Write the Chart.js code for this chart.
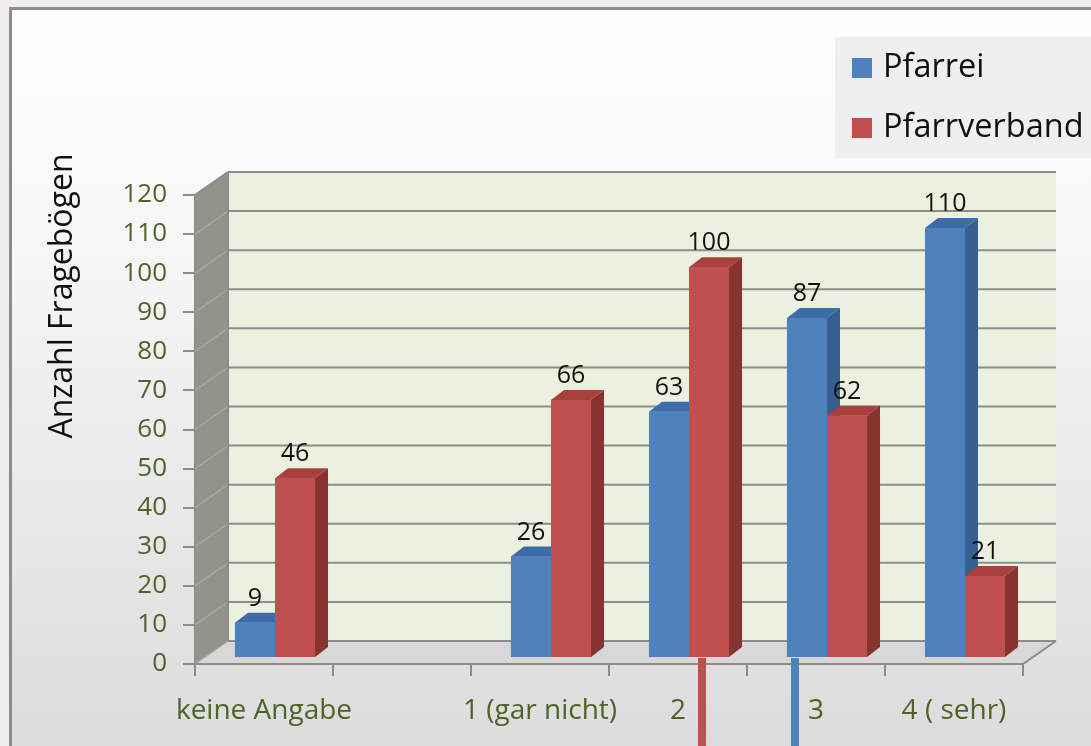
<!DOCTYPE html>
<html>
<head>
<meta charset="utf-8">
<script src="https://cdn.jsdelivr.net/npm/chart.js@4.4.1/dist/chart.umd.min.js"></script>
<style>
  html, body { margin: 0; padding: 0; background: #efece9; }
  #wrap { width: 1091px; height: 746px; }
</style>
</head>
<body>
<div id="wrap"><canvas id="chart" width="1091" height="746"></canvas></div>
<script>
// Daten
const categories = ['keine Angabe', '', '1 (gar nicht)', '2', '3', '4 ( sehr)'];
const pfarrei = [9, null, 26, 63, 87, 110];
const pfarrverband = [46, null, 66, 100, 62, 21];
const yMin = 0, yMax = 120, yStep = 10;

const FONT = '"Open Sans", "DejaVu Sans", sans-serif';
const OLIVE = '#4f6228';
const depth = { x: 33, y: 23 };   // Rückwand-Versatz
const barShift = { x: 11, y: -6 }; // Säulen stehen in der Mitte der Tiefe
const barDepth = { x: 13, y: 10 };

const faceColors = [
    { front: '#4f81bd', top: '#3d6ca8', side: '#375f91' },
    { front: '#c0504d', top: '#a8403d', side: '#873330' }
];

// Hintergrund, Rahmen, Wände, Boden
const scene3d = {
    id: 'scene3d',
    beforeDraw(chart) {
        const ctx = chart.ctx;
        ctx.save();
        ctx.fillStyle = '#efece9';
        ctx.fillRect(0, 0, chart.width, chart.height);
        const g = ctx.createLinearGradient(0, 10, 0, chart.height);
        g.addColorStop(0, '#ffffff');
        g.addColorStop(0.3, '#f7f7f7');
        g.addColorStop(1, '#dcdcdc');
        ctx.fillStyle = g;
        ctx.fillRect(11, 9, chart.width, chart.height);
        ctx.strokeStyle = '#8c8c8c';
        ctx.lineWidth = 3;
        ctx.beginPath();
        ctx.moveTo(10.5, chart.height);
        ctx.lineTo(10.5, 8.5);
        ctx.lineTo(chart.width, 8.5);
        ctx.stroke();
        ctx.restore();
    },
    beforeDatasetsDraw(chart) {
        const ctx = chart.ctx;
        const { left, right } = chart.chartArea;
        const y = chart.scales.y;
        const y0 = y.getPixelForValue(yMin), yTop = y.getPixelForValue(yMax);
        ctx.save();
        // Boden
        ctx.fillStyle = '#d8d8d8';
        ctx.beginPath();
        ctx.moveTo(left, y0);
        ctx.lineTo(left + depth.x, y0 - depth.y);
        ctx.lineTo(right + depth.x, y0 - depth.y);
        ctx.lineTo(right, y0);
        ctx.closePath();
        ctx.fill();
        // linke Wand
        ctx.fillStyle = '#8f9689';
        ctx.beginPath();
        ctx.moveTo(left, y0);
        ctx.lineTo(left, yTop);
        ctx.lineTo(left + depth.x, yTop - depth.y);
        ctx.lineTo(left + depth.x, y0 - depth.y);
        ctx.closePath();
        ctx.fill();
        // Rückwand
        ctx.fillStyle = '#ebf1de';
        ctx.fillRect(left + depth.x, yTop - depth.y, right - left, y0 - yTop);
        // Gitterlinien
        for (let v = yMin; v <= yMax; v += yStep) {
            const py = y.getPixelForValue(v);
            ctx.strokeStyle = '#a3a99c';
            ctx.lineWidth = 1.5;
            ctx.beginPath();
            ctx.moveTo(left, py);
            ctx.lineTo(left + depth.x, py - depth.y);
            ctx.stroke();
            ctx.strokeStyle = '#8c8c8c';
            ctx.lineWidth = 2;
            ctx.beginPath();
            ctx.moveTo(left + depth.x, py - depth.y);
            ctx.lineTo(right + depth.x, py - depth.y);
            ctx.stroke();
        }
        // Kanten
        ctx.strokeStyle = '#8c8c8c';
        ctx.lineWidth = 2;
        ctx.beginPath();
        ctx.moveTo(left, yTop);
        ctx.lineTo(left + depth.x, yTop - depth.y);
        ctx.moveTo(left, y0);
        ctx.lineTo(right, y0);
        ctx.lineTo(right + depth.x, y0 - depth.y);
        ctx.moveTo(left + depth.x, y0 - depth.y);
        ctx.lineTo(left + depth.x, yTop - depth.y);
        ctx.stroke();
        ctx.restore();
        // Säulen verschieben
        ctx.save();
        ctx.translate(barShift.x, barShift.y);
    },
    afterDatasetsDraw(chart) {
        const ctx = chart.ctx;
        // Säulen erneut in richtiger Reihenfolge mit 3D-Flächen zeichnen
        chart.data.datasets.forEach((ds, di) => {
            const meta = chart.getDatasetMeta(di);
            const c = faceColors[di];
            meta.data.forEach((el, i) => {
                if (ds.data[i] == null) return;
                el.draw(ctx);
                const x0 = el.x - el.width / 2, x1 = el.x + el.width / 2;
                const top = el.y, base = el.base;
                ctx.fillStyle = c.top;
                ctx.beginPath();
                ctx.moveTo(x0, top);
                ctx.lineTo(x0 + barDepth.x, top - barDepth.y);
                ctx.lineTo(x1 + barDepth.x, top - barDepth.y);
                ctx.lineTo(x1, top);
                ctx.closePath();
                ctx.fill();
                ctx.fillStyle = c.side;
                ctx.beginPath();
                ctx.moveTo(x1, top);
                ctx.lineTo(x1 + barDepth.x, top - barDepth.y);
                ctx.lineTo(x1 + barDepth.x, base - barDepth.y);
                ctx.lineTo(x1, base);
                ctx.closePath();
                ctx.fill();
            });
        });
        ctx.restore();

        // Datenbeschriftungen
        ctx.save();
        ctx.font = '25px ' + FONT;
        ctx.fillStyle = '#111';
        ctx.textAlign = 'center';
        ctx.textBaseline = 'middle';
        chart.data.datasets.forEach((ds, di) => {
            chart.getDatasetMeta(di).data.forEach((el, i) => {
                if (ds.data[i] == null) return;
                ctx.fillText(String(ds.data[i]), el.x + barShift.x, el.y + barShift.y - 24);
            });
        });
        ctx.restore();
    },
    afterDraw(chart) {
        const ctx = chart.ctx;
        ctx.save();
        // Legende
        ctx.fillStyle = '#efefef';
        ctx.fillRect(835, 37, 260, 121);
        ctx.font = '32.5px ' + FONT;
        ctx.textBaseline = 'middle';
        chart.data.datasets.forEach((ds, di) => {
            const cy = 68 + di * 60;
            ctx.fillStyle = ds.backgroundColor;
            ctx.fillRect(852, cy - 10, 20, 20);
            ctx.fillStyle = '#111';
            ctx.fillText(ds.label, 883, cy);
        });
        // Achsentitel
        ctx.translate(63, 296);
        ctx.rotate(-Math.PI / 2);
        ctx.textAlign = 'center';
        ctx.font = '32px ' + FONT;
        ctx.fillStyle = '#111';
        ctx.fillText('Anzahl Fragebögen', 0, 0);
        ctx.restore();
        // Markierungen unter der Achse
        ctx.save();
        ctx.fillStyle = '#c0504d';
        ctx.fillRect(698, 658, 8, chart.height - 658);
        ctx.fillStyle = '#4f81bd';
        ctx.fillRect(791, 658, 8, chart.height - 658);
        ctx.restore();
    }
};

new Chart(document.getElementById('chart'), {
    type: 'bar',
    data: {
        labels: categories,
        datasets: [
            { label: 'Pfarrei', data: pfarrei, backgroundColor: '#4f81bd' },
            { label: 'Pfarrverband', data: pfarrverband, backgroundColor: '#c0504d' }
        ]
    },
    options: {
        responsive: false,
        animation: false,
        layout: { padding: { top: 195, right: 68, bottom: 0, left: 0 } },
        datasets: { bar: { categoryPercentage: 0.58, barPercentage: 1 } },
        scales: {
            x: {
                afterFit(scale) { scale.height = 82; },
                grid: { display: true, offset: true, drawOnChartArea: false, color: '#8c8c8c', lineWidth: 2, tickLength: 12 },
                border: { display: false },
                ticks: { color: OLIVE, font: { family: FONT, size: 28 }, padding: 18, maxRotation: 0, autoSkip: false }
            },
            y: {
                min: yMin, max: yMax,
                afterFit(scale) { scale.width = 195; },
                grid: { drawOnChartArea: false, color: '#8c8c8c', lineWidth: 2, tickLength: 12 },
                border: { color: '#8c8c8c', width: 2 },
                ticks: { stepSize: yStep, color: OLIVE, font: { family: FONT, size: 26 }, padding: 16 }
            }
        },
        plugins: { legend: { display: false }, tooltip: { enabled: false } }
    },
    plugins: [scene3d]
});
</script>
</body>
</html>
